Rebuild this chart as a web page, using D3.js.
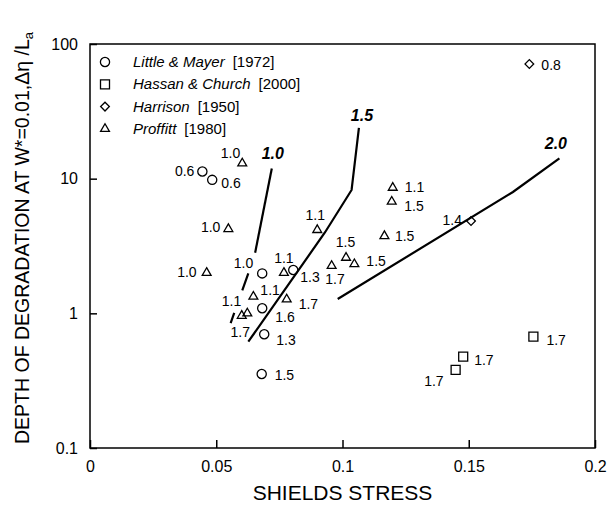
<!DOCTYPE html>
<html>
<head>
<meta charset="utf-8">
<script src="https://cdn.jsdelivr.net/npm/d3@7"></script>
<style>
  body { margin: 0; background: #fff; }
  svg { font-family: "Liberation Sans", Arial, Helvetica, sans-serif; }
</style>
</head>
<body>
<svg id="chart" width="615" height="506"></svg>
<script>
// Little & Mayer [1972]
const lmShields = [0.0445, 0.0484, 0.0682, 0.0805, 0.0682, 0.0690, 0.0680]
const lmDepth = [11.3, 9.8, 1.98, 2.10, 1.09, 0.70, 0.354]
const lmLabels = ['0.6', '0.6', '1.0', '1.3', '1.6', '1.3', '1.5']

// Hassan & Church [2000]
const hcShields = [0.1448, 0.1478, 0.1756]
const hcDepth = [0.38, 0.477, 0.671]
const hcLabels = ['1.7', '1.7', '1.7']

// Harrison [1950]
const haShields = [0.174, 0.1509]
const haDepth = [71, 4.85]
const haLabels = ['0.8', '1.4']

// Proffitt [1980]
const prShields = [0.0603, 0.0548, 0.0462, 0.0768, 0.0647, 0.0779, 0.0601, 0.0623,
  0.0900, 0.1199, 0.1195, 0.1166, 0.1014, 0.1047, 0.0957]
const prDepth = [13.0, 4.23, 2.00, 2.00, 1.33, 1.27, 0.96, 1.00,
  4.16, 8.57, 6.75, 3.75, 2.59, 2.32, 2.25]
const prLabels = ['1.0', '1.0', '1.0', '1.1', '1.1', '1.7', '1.7', '1.1',
  '1.1', '1.1', '1.5', '1.5', '1.5', '1.5', '1.7']

// curves labelled 1.0, 1.5, 2.0
const c10Shields = [0.0720, 0.0654]
const c10Depth = [11.9, 2.82]
const c10DashShields = [0.0627, 0.0557]
const c10DashDepth = [1.98, 0.847]
const c15Shields = [0.0627, 0.0931, 0.1036, 0.1065]
const c15Depth = [0.616, 4.0, 8.24, 23.8]
const c20Shields = [0.0981, 0.1675, 0.1859]
const c20Depth = [1.278, 7.96, 14.17]
const curveLabels = ['1.0', '1.5', '2.0']

const xTicks = [0, 0.05, 0.1, 0.15, 0.2]
const yTicks = [0.1, 1, 10, 100]

const legendNames = ['Little & Mayer', 'Hassan & Church', 'Harrison', 'Proffitt']
const legendYears = ['[1972]', '[2000]', '[1950]', '[1980]']

// label placement [dx, dy, anchor] for each point, in pixels
const lmPos = [[-8, 4.5, 'end'], [9, 8, 'start'], [-9, -5.5, 'end'], [7, 12.5, 'start'],
  [13, 13.5, 'start'], [12, 10.5, 'start'], [13, 6, 'start']]
const hcPos = [[-12, 16.5, 'end'], [11, 8, 'start'], [13, 8, 'start']]
const haPos = [[12, 5.5, 'start'], [-9, 4.5, 'end']]
const prPos = [[-2, -5.5, 'end'], [-8, 3, 'end'], [-10, 4.5, 'end'], [0, -9.5, 'middle'],
  [7, -2, 'start'], [12, 9.5, 'start'], [-1.5, 21, 'middle'], [-6, -7, 'end'],
  [-2, -10, 'middle'], [12, 4.5, 'start'], [12.5, 9.5, 'start'], [10.5, 4.5, 'start'],
  [-0.5, -10.5, 'middle'], [12, 1.5, 'start'], [3.3, 18.5, 'middle']]

const margin = { left: 90, right: 20, top: 44, bottom: 58 }
const width = 615, height = 506

const svg = d3.select('#chart')

const x = d3.scaleLinear().domain([0, 0.2]).range([margin.left, width - margin.right])
const y = d3.scaleLog().domain([0.1, 100]).range([height - margin.bottom, margin.top])

// frame
svg.append('rect')
  .attr('x', x(0)).attr('y', y(100))
  .attr('width', x(0.2) - x(0)).attr('height', y(0.1) - y(100))
  .attr('fill', 'none').attr('stroke', '#000').attr('stroke-width', 1.5)

const xAxis = svg.append('g')
  .attr('transform', 'translate(0,' + y(0.1) + ')')
  .call(d3.axisBottom(x).tickValues(xTicks).tickSizeInner(-8).tickSizeOuter(0)
    .tickPadding(13).tickFormat(d => String(d)))
xAxis.select('.domain').remove()
xAxis.selectAll('line').attr('stroke-width', 1.5)
xAxis.selectAll('text').attr('font-size', 16).attr('fill', '#000')
  .attr('font-family', '"Liberation Sans", Arial, sans-serif')

const yAxis = svg.append('g')
  .attr('transform', 'translate(' + x(0) + ',0)')
  .call(d3.axisLeft(y).tickValues(yTicks).tickSizeInner(-7).tickSizeOuter(0)
    .tickPadding(12).tickFormat(d => String(d)))
yAxis.select('.domain').remove()
yAxis.selectAll('line').attr('stroke-width', 1.5)
yAxis.selectAll('text').attr('font-size', 16).attr('fill', '#000')
  .attr('font-family', '"Liberation Sans", Arial, sans-serif')

// axis titles
svg.append('text')
  .attr('x', (x(0) + x(0.2)) / 2).attr('y', 500)
  .attr('text-anchor', 'middle').attr('font-size', 21)
  .text('SHIELDS STRESS')

const yt = svg.append('text')
  .attr('transform', 'translate(29,238) rotate(-90)')
  .attr('text-anchor', 'middle').attr('font-size', 19.5)
yt.append('tspan').text('DEPTH OF DEGRADATION AT W*=0.01,\u0394\u03b7 /L')
yt.append('tspan').attr('font-size', 13).attr('dy', 4).text('a')

// curves
const line = d3.line().x(d => x(d[0])).y(d => y(d[1]))
const curves = [
  [d3.zip(c10Shields, c10Depth), null],
  [d3.zip(c15Shields, c15Depth), null],
  [d3.zip(c20Shields, c20Depth), null],
  [d3.zip(c10DashShields, c10DashDepth), '18,24']
]
curves.forEach(([pts, dash]) => {
  svg.append('path')
    .attr('d', line(pts))
    .attr('fill', 'none').attr('stroke', '#000').attr('stroke-width', 2.2)
    .attr('stroke-dasharray', dash)
})

// curve labels at the upper end of each curve
const curveEnds = [
  [c10Shields[0], c10Depth[0], 1, -9.5],
  [c15Shields[c15Shields.length - 1], c15Depth[c15Depth.length - 1], 3, -7],
  [c20Shields[c20Shields.length - 1], c20Depth[c20Depth.length - 1], -3.5, -9]
]
curveEnds.forEach((e, i) => {
  svg.append('text')
    .attr('x', x(e[0]) + e[2]).attr('y', y(e[1]) + e[3])
    .attr('text-anchor', 'middle')
    .attr('font-size', 16).attr('font-weight', 'bold').attr('font-style', 'italic')
    .text(curveLabels[i])
})

// markers
const circlePath = d3.symbol().type(d3.symbolCircle).size(Math.PI * 4.6 * 4.6)()
const squarePath = d3.symbol().type(d3.symbolSquare).size(81)()
const diamondPath = d3.symbol().type(d3.symbolSquare).size(38)()
const trianglePath = d3.symbol().type(d3.symbolTriangle).size(34)()

const sets = [
  { xs: lmShields, ys: lmDepth, labels: lmLabels, pos: lmPos, path: circlePath, rot: 0 },
  { xs: hcShields, ys: hcDepth, labels: hcLabels, pos: hcPos, path: squarePath, rot: 0 },
  { xs: haShields, ys: haDepth, labels: haLabels, pos: haPos, path: diamondPath, rot: 45 },
  { xs: prShields, ys: prDepth, labels: prLabels, pos: prPos, path: trianglePath, rot: 0 }
]

sets.forEach(s => {
  const g = svg.append('g')
  s.xs.forEach((v, i) => {
    const px = x(v), py = y(s.ys[i])
    g.append('path')
      .attr('d', s.path)
      .attr('transform', 'translate(' + px + ',' + py + ') rotate(' + s.rot + ')')
      .attr('fill', 'none').attr('stroke', '#000').attr('stroke-width', 1.3)
    const p = s.pos[i]
    g.append('text')
      .attr('x', px + p[0]).attr('y', py + p[1])
      .attr('text-anchor', p[2]).attr('font-size', 14)
      .text(s.labels[i])
  })
})

// legend
const legend = svg.append('g')
legendNames.forEach((name, i) => {
  const ly = 62 + i * 22.3
  legend.append('path')
    .attr('d', sets[i].path)
    .attr('transform', 'translate(105,' + ly + ') rotate(' + sets[i].rot + ')')
    .attr('fill', 'none').attr('stroke', '#000').attr('stroke-width', 1.3)
  const t = legend.append('text')
    .attr('x', 133).attr('y', ly + 5).attr('font-size', 15)
  t.append('tspan').attr('font-style', 'italic').text(name)
  t.append('tspan').attr('dx', 8).text(legendYears[i])
})
</script>
</body>
</html>
